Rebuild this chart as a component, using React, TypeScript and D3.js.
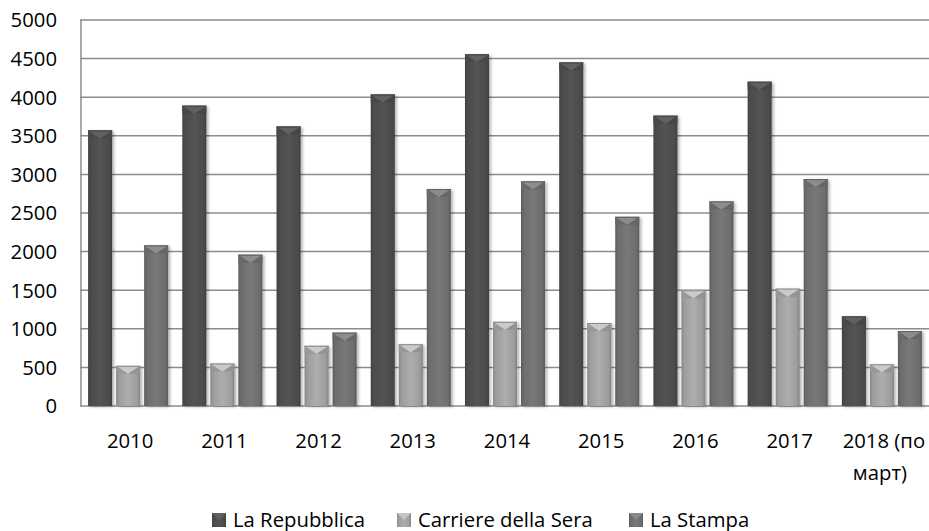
import React from "react";
import * as d3 from "d3";

const categories = ["2010", "2011", "2012", "2013", "2014", "2015", "2016", "2017", "2018 (по|март)"];
const seriesNames = ["La Repubblica", "Carriere della Sera", "La Stampa"];
const repubblica = [3570, 3890, 3620, 4035, 4555, 4450, 3760, 4200, 1160];
const corriere = [520, 550, 780, 800, 1090, 1075, 1500, 1520, 540];
const stampa = [2080, 1960, 950, 2810, 2910, 2450, 2650, 2940, 970];
const yTicks = [0, 500, 1000, 1500, 2000, 2500, 3000, 3500, 4000, 4500, 5000];

const seriesValues = [repubblica, corriere, stampa];
const baseColors = ["#505050", "#a6a6a6", "#737373"];

const W = 929;
const H = 531;
const left = 81;
const right = 929;
const top = 20;
const bottom = 406;
const font = "'Open Sans', sans-serif";
const fs = 20.3;

export default function App() {
  const y = d3.scaleLinear().domain([0, 5000]).range([bottom, top]);
  const x0 = d3.scaleBand<string>().domain(categories).range([left, right]).paddingInner(0).paddingOuter(0);
  const x1 = d3
    .scaleBand<string>()
    .domain(seriesNames)
    .range([0, x0.bandwidth()])
    .paddingInner(0.143)
    .paddingOuter(0.253);
  const bw = x1.bandwidth();

  const legendItems = [
    { name: seriesNames[0], x: 212 },
    { name: seriesNames[1], x: 397 },
    { name: seriesNames[2], x: 629 },
  ];

  return (
    <svg width={W} height={H} style={{ position: "absolute", left: 0, top: 0, background: "#fff" }}>
      <defs>
        {baseColors.map((c, i) => {
          const col = d3.color(c)!;
          return (
            <linearGradient key={i} id={`g${i}`} x1="0" x2="1" y1="0" y2="0">
              <stop offset="0" stopColor={col.darker(0.6).formatHex()} />
              <stop offset="0.12" stopColor={col.darker(0.15).formatHex()} />
              <stop offset="0.5" stopColor={col.brighter(0.12).formatHex()} />
              <stop offset="0.88" stopColor={col.darker(0.15).formatHex()} />
              <stop offset="1" stopColor={col.darker(0.7).formatHex()} />
            </linearGradient>
          );
        })}
        <filter id="sh" x="-30%" y="-10%" width="160%" height="120%">
          <feDropShadow dx="2" dy="1" stdDeviation="1.8" floodColor="#000" floodOpacity="0.3" />
        </filter>
      </defs>

      {/* gridlines */}
      {yTicks.map((t) => (
        <line key={t} x1={left - 1} x2={right} y1={y(t)} y2={y(t)} stroke="#8c8c8c" strokeWidth={1.5} />
      ))}
      <line x1={left} x2={left} y1={top} y2={bottom} stroke="#8c8c8c" strokeWidth={1.5} />
      <line x1={left} x2={right} y1={bottom + 1} y2={bottom + 1} stroke="#bdbdbd" strokeWidth={3} filter="url(#sh)" />

      {/* bars */}
      {categories.map((cat, ci) =>
        seriesNames.map((s, si) => {
          const v = seriesValues[si][ci];
          const bx = x0(cat)! + x1(s)!;
          const by = y(v);
          const bh = bottom - by;
          const col = d3.color(baseColors[si])!;
          const cap = Math.min(8, bh / 2);
          const xc = bx + bw / 2;
          return (
            <g key={`${ci}-${si}`}>
              <rect x={bx} y={by} width={bw} height={bh} fill={`url(#g${si})`} filter="url(#sh)" />
              <polygon
                points={`${bx},${by} ${xc},${by + cap} ${bx},${by + cap}`}
                fill={col.darker(0.25).formatHex()}
              />
              <polygon
                points={`${bx + bw},${by} ${xc},${by + cap} ${bx + bw},${by + cap}`}
                fill={col.darker(0.35).formatHex()}
              />
              <polygon
                points={`${bx},${by} ${bx + bw},${by} ${xc},${by + cap}`}
                fill={col.brighter(0.55).formatHex()}
              />
              <line x1={bx} x2={bx + bw} y1={by + 0.5} y2={by + 0.5} stroke={col.darker(0.5).formatHex()} strokeWidth={1} />
            </g>
          );
        })
      )}

      {/* y labels */}
      {yTicks.map((t) => (
        <text key={t} x={57} y={y(t) + 7.3} textAnchor="end" fontFamily={font} fontSize={fs} fill="#000">
          {t}
        </text>
      ))}

      {/* x labels */}
      {categories.map((cat) => {
        const lines = cat.split("|");
        const cx = x0(cat)! + x0.bandwidth() / 2;
        return (
          <g key={cat}>
            {lines.map((ln, i) => (
              <text
                key={i}
                x={i === 0 ? cx + 2 : cx - 2}
                y={447.5 + i * 32}
                textAnchor="middle"
                fontFamily={font}
                fontSize={fs}
                fill="#000"
              >
                {ln}
              </text>
            ))}
          </g>
        );
      })}

      {/* legend */}
      {legendItems.map((it, i) => {
        const col = d3.color(baseColors[i])!;
        return (
          <g key={it.name}>
            <rect x={it.x} y={513} width={14} height={14} fill={`url(#g${i})`} />
            <polygon points={`${it.x},513 ${it.x + 14},513 ${it.x + 7},520`} fill={col.brighter(0.5).formatHex()} />
            <text x={it.x + 21} y={526.5} fontFamily={font} fontSize={fs} fill="#000">
              {it.name}
            </text>
          </g>
        );
      })}
    </svg>
  );
}
